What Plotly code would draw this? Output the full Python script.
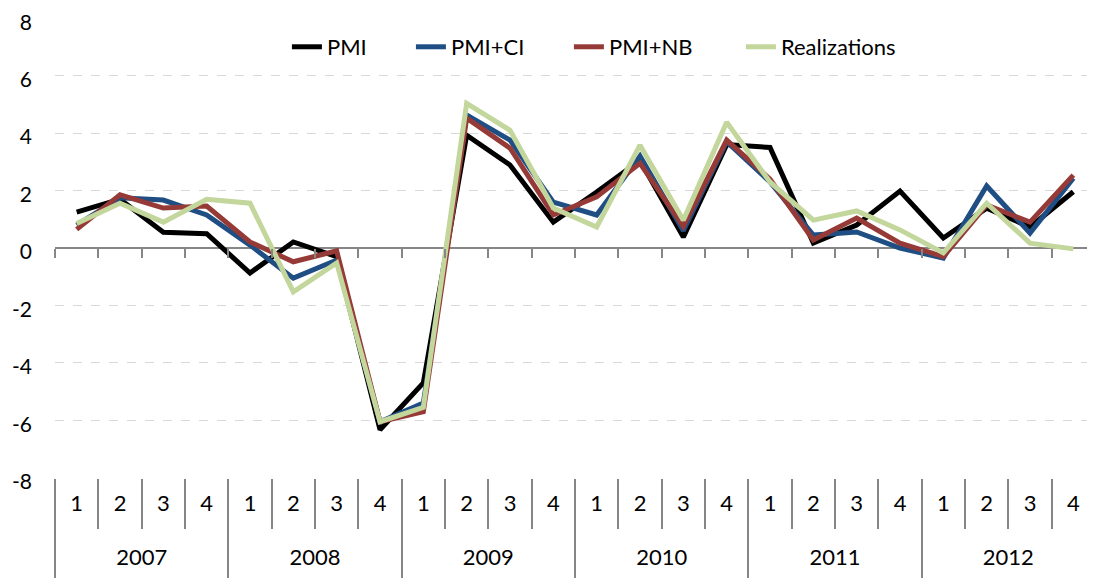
import plotly.graph_objects as go

years = ["2007", "2008", "2009", "2010", "2011", "2012"]
quarters = ["1", "2", "3", "4"]
y_ticks = [-8, -6, -4, -2, 0, 2, 4, 6, 8]
y_tick_labels = ["-8", "-6", "-4", "-2", "0", "2", "4", "6", "8"]

pmi = [1.25, 1.7, 0.55, 0.5, -0.87, 0.21, -0.3, -6.33,
       -4.7, 3.93, 2.89, 0.9, 1.95, 3.05, 0.38, 3.6,
       3.5, 0.17, 0.8, 1.98, 0.35, 1.39, 0.73, 1.96]
pmi_ci = [0.8, 1.75, 1.67, 1.15, 0.1, -1.05, -0.42, -6.05,
          -5.4, 4.63, 3.76, 1.6, 1.15, 3.2, 0.6, 3.7,
          2.3, 0.45, 0.56, 0.0, -0.35, 2.16, 0.52, 2.43]
pmi_nb = [0.65, 1.85, 1.39, 1.46, 0.21, -0.48, -0.1, -6.05,
          -5.7, 4.52, 3.48, 1.15, 1.78, 2.95, 0.75, 3.76,
          2.4, 0.28, 1.04, 0.17, -0.3, 1.5, 0.9, 2.54]
realizations = [0.85, 1.56, 0.9, 1.7, 1.56, -1.53, -0.52, -6.05,
                -5.55, 5.04, 4.1, 1.39, 0.73, 3.58, 0.97, 4.38,
                2.3, 0.97, 1.29, 0.63, -0.17, 1.56, 0.17, -0.03]

x_outer = [y for y in years for q in quarters]
x_inner = [q for y in years for q in quarters]
x_cat = [x_outer, x_inner]
n = len(x_inner)
nq = len(quarters)
boundaries = [i - 0.5 for i in range(n + 1)]
year_bounds = [i * nq - 0.5 for i in range(len(years) + 1)]
year_centers = [i * nq + (nq - 1) / 2 for i in range(len(years))]

series = [
    ("PMI", pmi, "#000000", 79),
    ("PMI+CI", pmi_ci, "#1f4e84", 113),
    ("PMI+NB", pmi_nb, "#963a37", 127),
    ("Realizations", realizations, "#c3d69b", 130),
]

FONT = "Lato, 'Open Sans', sans-serif"
FS = 22
AXIS_GREY = "#868686"

fig = go.Figure()
for name, vals, color, lw in series:
    fig.add_trace(go.Scatter(
        x=x_cat, y=vals, mode="lines", name=name,
        line=dict(color=color, width=5),
        legendwidth=lw,
    ))

# invisible traces so the helper axes get drawn
for ax in ("x2", "x3", "x4"):
    fig.add_trace(go.Scatter(
        x=list(range(n)), y=pmi, mode="none", xaxis=ax,
        showlegend=False, hoverinfo="skip",
    ))

helper = dict(
    overlaying="x", anchor="free", side="bottom",
    range=[-0.5, n - 0.5],
    showgrid=False, zeroline=False, showline=False, automargin=False,
    tickfont=dict(size=FS),
)

# the page body adds an 8px offset, so the figure is 8px smaller on each side
fig.update_layout(
    width=1087, height=570,
    margin=dict(l=47, r=0, t=10, b=100, autoexpand=False),
    plot_bgcolor="white", paper_bgcolor="white",
    font=dict(family=FONT, size=FS, color="black"),
    showlegend=True,
    legend=dict(
        orientation="h", x=0.223, xanchor="left", y=0.937, yanchor="middle",
        font=dict(size=FS), bgcolor="rgba(0,0,0,0)",
    ),
    xaxis=dict(
        type="multicategory", range=[-0.5, n - 0.5],
        showgrid=False, showline=False, zeroline=False,
        ticks="", showticklabels=False, showdividers=False, automargin=False,
    ),
    # tick marks on the zero line
    xaxis2=dict(
        helper, position=0.5, tickvals=boundaries, showticklabels=False,
        ticks="outside", ticklen=9, tickcolor=AXIS_GREY, tickwidth=1.5,
    ),
    # quarter labels + short separators
    xaxis3=dict(
        helper, position=0, tickvals=list(range(n)), ticktext=x_inner,
        ticks="", ticklabelstandoff=10,
        minor=dict(tickvals=boundaries, ticks="outside", ticklen=50,
                   tickcolor=AXIS_GREY, tickwidth=1.5, showgrid=False),
    ),
    # year labels + long dividers
    xaxis4=dict(
        helper, position=0, tickvals=year_centers, ticktext=years,
        ticks="", ticklabelstandoff=64,
        minor=dict(tickvals=year_bounds, ticks="outside", ticklen=100,
                   tickcolor=AXIS_GREY, tickwidth=1.5, showgrid=False),
    ),
    yaxis=dict(
        range=[-8.01, 8.01], tickvals=y_ticks, ticktext=y_tick_labels,
        showgrid=True, gridcolor="#d9d9d9", gridwidth=1, griddash="dash",
        zeroline=True, zerolinecolor=AXIS_GREY, zerolinewidth=1.5,
        showline=False, ticks="", ticklabelstandoff=22, ticklabelshift=4,
        automargin=False, ticklabeloverflow="allow", tickfont=dict(size=21),
    ),
)

fig.write_html("out.html")
